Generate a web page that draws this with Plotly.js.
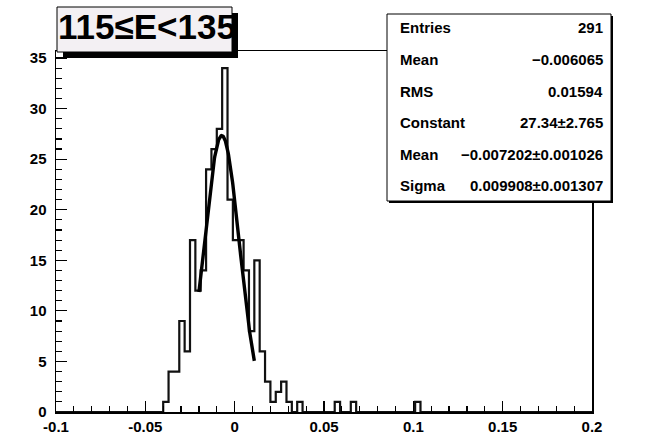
<!DOCTYPE html>
<html><head><meta charset="utf-8">
<script src="https://cdn.plot.ly/plotly-3.0.1.min.js"></script>
<style>html,body{margin:0;padding:0;background:#fff;} #chart{width:653px;height:435px;}</style>
</head><body><div id="chart"></div>
<script>
// ---- data ----
const binLow = -0.1;
const binHigh = 0.2;
const binCounts = [
  0,0,0,0,0,0,0,0,0,0,
  0,0,0,0,0,0,0,0,0,0,
  1,4,4,9,6,17,12,14,24,26,
  28,34,21,17,17,14,8,15,6,3,
  1,2,3,1,0,1,0,0,0,0,
  0,0,1,0,0,1,0,0,0,0,
  0,0,0,0,0,0,0,1,0,0,
  0,0,0,0,0,0,0,0,0,0,
  0,0,0,0,0,0,0,0,0,0,
  0,0,0,0,0,0,0,0,0,0
];
const fitConstant = 27.34;
const fitMean = -0.007202;
const fitSigma = 0.009908;
const fitRange = [-0.0200, 0.0110];
const titleText = '115\u2264E<135';
const statLabels = ['Entries','Mean','RMS','Constant','Mean','Sigma'];
const statValues = ['291','\u22120.006065','0.01594','27.34\u00b12.765','\u22120.007202\u00b10.001026','0.009908\u00b10.001307'];
const xTickVals = [-0.1,-0.05,0,0.05,0.1,0.15,0.2];
const xTickText = ['-0.1','-0.05','0','0.05','0.1','0.15','0.2'];
const yTickVals = [0,5,10,15,20,25,30,35];
const yTickText = ['0','5','10','15','20','25','30','35'];

// ---- build traces ----
const nBins = binCounts.length;
const bw = (binHigh - binLow) / nBins;
const hx = [], hy = [];
for (let i = 0; i < nBins; i++) { hx.push(binLow + i*bw); hy.push(binCounts[i]); }
hx.push(binHigh); hy.push(binCounts[nBins-1]);

const fx = [], fy = [];
const nf = 150;
for (let i = 0; i <= nf; i++) {
  const x = fitRange[0] + (fitRange[1]-fitRange[0])*i/nf;
  fx.push(x);
  fy.push(fitConstant*Math.exp(-0.5*Math.pow((x-fitMean)/fitSigma,2)));
}

const yMax = Math.max(...binCounts)*1.05;

// pixel -> paper helpers
const L=56, R=592, T=51, B=412;
const px = x => (x-L)/(R-L);
const py = y => (B-y)/(B-T);

const font = 'Liberation Sans, Arial, sans-serif';
const shapes = [
  {type:'rect', xref:'paper', yref:'paper', x0:px(63), x1:px(238), y0:py(13), y1:py(58), fillcolor:'#000', line:{width:0}, layer:'above'},
  {type:'rect', xref:'paper', yref:'paper', x0:px(57), x1:px(232), y0:py(7), y1:py(52), fillcolor:'#f3f0f3', line:{color:'#000', width:1}, layer:'above'},
  {type:'rect', xref:'paper', yref:'paper', x0:px(389), x1:px(613), y0:py(16), y1:py(203), fillcolor:'#000', line:{width:0}, layer:'above'},
  {type:'rect', xref:'paper', yref:'paper', x0:px(387), x1:px(611), y0:py(14), y1:py(201), fillcolor:'#fff', line:{color:'#000', width:1}, layer:'above'}
];
const rowsY = [28, 60, 91, 122, 154, 185];
const annotations = [
  {xref:'paper', yref:'paper', x:px(147), y:py(27), text:titleText, showarrow:false, xanchor:'center', yanchor:'middle',
   font:{family:font, size:35, weight:'bold', color:'#000'}}
];
statLabels.forEach((s,i)=>{
  annotations.push({xref:'paper', yref:'paper', x:px(398), y:py(rowsY[i]), text:s, showarrow:false, xanchor:'left', yanchor:'middle',
    font:{family:font, size:15, weight:'bold', color:'#000'}});
  annotations.push({xref:'paper', yref:'paper', x:px(605), y:py(rowsY[i]), text:statValues[i], showarrow:false, xanchor:'right', yanchor:'middle',
    font:{family:font, size:15, weight:'bold', color:'#000'}});
});

const data = [
  {type:'scatter', mode:'lines', x:hx, y:hy, line:{shape:'hv', color:'#111', width:2.2}, cliponaxis:false, hoverinfo:'skip'},
  {type:'scatter', mode:'lines', x:fx, y:fy, line:{color:'#000', width:3.4}, hoverinfo:'skip'}
];
const tickfont = {family:font, size:15, weight:'bold', color:'#000'};
const layout = {
  width:653, height:435,
  margin:{l:L, r:653-R, t:T, b:435-B, pad:0},
  paper_bgcolor:'#fff', plot_bgcolor:'#fff',
  showlegend:false,
  xaxis:{range:[binLow, binHigh], showline:true, mirror:true, linecolor:'#000', linewidth:1.5,
    ticks:'inside', ticklen:11, tickwidth:1.2, tickcolor:'#000',
    tickmode:'array', tickvals:xTickVals, ticktext:xTickText, tickfont:tickfont,
    showgrid:false, zeroline:false,
    minor:{ticks:'inside', ticklen:6, tickwidth:1.2, tickcolor:'#000', tickmode:'linear', tick0:-0.1, dtick:0.01, showgrid:false}},
  yaxis:{range:[0, yMax], showline:true, mirror:true, linecolor:'#000', linewidth:1.5,
    ticks:'inside', ticklen:11, tickwidth:1.2, tickcolor:'#000',
    tickmode:'array', tickvals:yTickVals, ticktext:yTickText, tickfont:tickfont, ticklabelstandoff:5,
    showgrid:false, zeroline:false,
    minor:{ticks:'inside', ticklen:6, tickwidth:1.2, tickcolor:'#000', tickmode:'linear', tick0:0, dtick:1, showgrid:false}},
  shapes:shapes, annotations:annotations
};
Plotly.newPlot('chart', data, layout, {staticPlot:true, displayModeBar:false});
</script>
</body></html>
